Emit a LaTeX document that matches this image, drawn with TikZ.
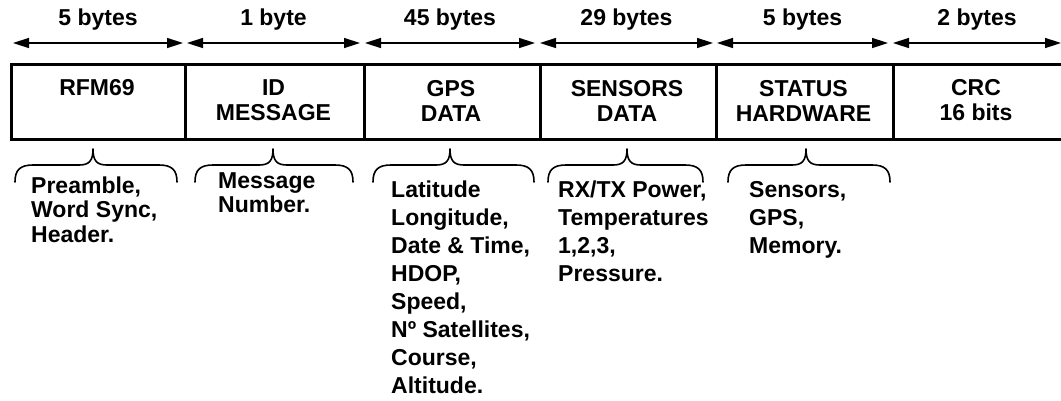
\documentclass[tikz,border=0pt]{standalone}
\usepackage{fontspec}
\setmainfont{Liberation Sans}
\usetikzlibrary{arrows.meta}
\tikzset{
  dimarrow/.style={line width=1.5pt, {Triangle[length=16pt,width=10pt]}-{Triangle[length=16pt,width=10pt]}},
  cell/.style={draw, line width=3pt, minimum height=75pt, inner sep=0pt},
  sizelabel/.style={font=\bfseries\fontsize{23}{25}\selectfont, inner sep=0pt},
  celltext/.style={font=\bfseries\fontsize{23}{25}\selectfont, align=center, inner sep=0pt},
  listtext/.style={font=\bfseries\fontsize{23}{#1}\selectfont, align=left, inner sep=0pt, anchor=base west},
  bracepath/.style={line width=1.6pt, line cap=round, line join=round},
}
% curly brace opening downward: left end, tip, right end
\newcommand{\upbrace}[3]{%
  \draw[bracepath] (#1,182) .. controls (#1,170) and (#1+5,165) .. (#1+18,165)
    -- (#2-14,165) .. controls (#2-4,165) and (#2,161) .. (#2,149)
    .. controls (#2,161) and (#2+4,165) .. (#2+14,165)
    -- (#3-18,165) .. controls (#3-5,165) and (#3,170) .. (#3,182);}
\begin{document}
\begin{tikzpicture}[x=1pt,y=-1pt]
\useasboundingbox (0,0) rectangle (1061,400);

% frame cells
\node[cell, minimum width=174pt, anchor=north west] (c1) at (10,63) {};
\node[cell, minimum width=179pt, anchor=north west] (c2) at (184,63) {};
\node[cell, minimum width=176pt, anchor=north west] (c3) at (363,63) {};
\node[cell, minimum width=176pt, anchor=north west] (c4) at (539,63) {};
\node[cell, minimum width=177pt, anchor=north west] (c5) at (715,63) {};
\node[cell, minimum width=200pt, anchor=north west] (c6) at (892,63) {};

% cell captions
\node[celltext] (t1) at (97,88) {RFM69};
\node[celltext] (t2) at (273.5,100.5) {ID\\MESSAGE};
\node[celltext] (t3) at (451,100.5) {GPS\\DATA};
\node[celltext] (t4) at (627,100.5) {SENSORS\\DATA};
\node[celltext] (t5) at (803.5,100.5) {STATUS\\HARDWARE};
\node[celltext] (t6) at (976,100.5) {CRC\\16 bits};

% field sizes
\coordinate (a1l) at (13,43);  \coordinate (a1r) at (183,43);
\coordinate (a2l) at (187,43); \coordinate (a2r) at (360,43);
\coordinate (a3l) at (365,43); \coordinate (a3r) at (535,43);
\coordinate (a4l) at (540,43); \coordinate (a4r) at (713,43);
\coordinate (a5l) at (717,43); \coordinate (a5r) at (888,43);
\coordinate (a6l) at (893,43); \coordinate (a6r) at (1061,43);
\draw[dimarrow] (a1l) -- (a1r);
\draw[dimarrow] (a2l) -- (a2r);
\draw[dimarrow] (a3l) -- (a3r);
\draw[dimarrow] (a4l) -- (a4r);
\draw[dimarrow] (a5l) -- (a5r);
\draw[dimarrow] (a6l) -- (a6r);
\node[sizelabel] (s1) at (98,20) {5 bytes};
\node[sizelabel] (s2) at (273.5,20) {1 byte};
\node[sizelabel] (s3) at (450,20) {45 bytes};
\node[sizelabel] (s4) at (626.5,20) {29 bytes};
\node[sizelabel] (s5) at (802.5,20) {5 bytes};
\node[sizelabel] (s6) at (977,20) {2 bytes};

% braces
\upbrace{15}{93}{177}
\upbrace{195}{273}{353}
\upbrace{373}{450}{534}
\upbrace{548}{627}{703}
\upbrace{728}{806}{890}

% field contents (anchored at the baseline of the last line)
\node[listtext=24.5] (l1) at (31,242) {Preamble,\\Word Sync,\\Header.};
\node[listtext=24.5] (l2) at (218,212.5) {Message\\Number.};
\node[listtext=28] (l3) at (391,393) {Latitude\\Longitude,\\Date \& Time,\\HDOP,\\Speed,\\Nº Satellites,\\Course,\\Altitude.};
\node[listtext=28] (l4) at (558,281) {RX/TX Power,\\Temperatures\\1,2,3,\\Pressure.};
\node[listtext=28] (l5) at (749,253) {Sensors,\\GPS,\\Memory.};
\end{tikzpicture}
\end{document}
